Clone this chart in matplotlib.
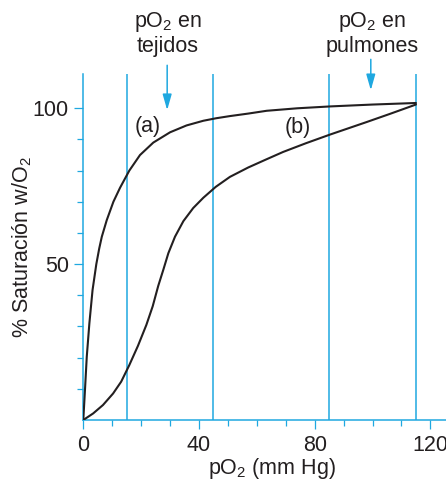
import matplotlib
matplotlib.use("Agg")
import matplotlib.pyplot as plt
from matplotlib.ticker import MultipleLocator, FixedLocator

plt.rcParams['font.family'] = ['Liberation Sans', 'DejaVu Sans']
plt.rcParams['mathtext.fontset'] = 'custom'
plt.rcParams['mathtext.rm'] = 'Liberation Sans'
plt.rcParams['mathtext.it'] = 'Liberation Sans:italic'
plt.rcParams['mathtext.default'] = 'regular'

# ---- data ----
curve_a_x = [0, 0.6, 1.2, 2.1, 3.2, 4.5, 5.5, 6.4, 8.1, 10.4, 12.7, 15.9, 19.6, 24.2,
             30.0, 35.7, 41.5, 45.9, 50.7, 57.0, 63.4, 74.0, 85.4, 100.0, 115.0]
curve_a_y = [0, 10.0, 20.3, 31.0, 41.7, 50.0, 55.0, 58.8, 64.1, 70.0, 74.5, 80.0, 85.0, 89.0,
             92.3, 94.5, 96.0, 96.8, 97.5, 98.3, 99.2, 100.0, 100.6, 101.2, 101.7]

curve_b_x = [0, 3.4, 6.8, 10.3, 13.1, 15.9, 18.9, 21.8, 24.0, 25.9, 27.7, 29.4, 31.7, 34.6,
             38.0, 41.5, 45.8, 50.7, 57.0, 63.0, 69.1, 77.0, 85.4, 98.0, 106.0, 115.0]
curve_b_y = [0, 2.1, 4.8, 8.5, 12.3, 17.6, 23.8, 30.5, 36.5, 43.0, 48.3, 53.5, 58.8, 63.8,
             68.0, 71.3, 74.8, 78.0, 81.0, 83.5, 86.0, 88.8, 91.6, 95.6, 98.2, 101.2]

vlines_x = [15, 45, 85, 115]
arrow_x = [29, 99.4]
arrow_top = [113.8, 115.7]
arrow_tip = [99.4, 105.8]
arrow_text_x = [29.3, 99.7]
arrow_text = [["pO$_2$ en", "tejidos"], ["pO$_2$ en", "pulmones"]]
curve_labels = ["(a)", "(b)"]
curve_label_x = [22.4, 74.2]
curve_label_y = [92.5, 92.2]

x_major = [0, 40, 80, 120]
y_major = [50, 100]
y_minor = [10, 20, 30, 40, 60, 70, 80, 90]
xlabel = "pO$_2$ (mm Hg)"
ylabel = "% Saturación w/O$_2$"

CYAN = "#1fa8e0"
INK = "#231f20"
FS = 15.5

fig = plt.figure(figsize=(4.46, 4.83), dpi=100)
ax = fig.add_axes([83.3/446, 1-420/483, (446-83.3)/446, (420-74)/483])
ax.set_xlim(0, 125.4)
ax.set_ylim(0, 111)

for s in ['top', 'right']:
    ax.spines[s].set_visible(False)
for s in ['left', 'bottom']:
    ax.spines[s].set_color(CYAN)
    ax.spines[s].set_linewidth(1.1)

for xv in vlines_x:
    ax.axvline(xv, color=CYAN, lw=1.1, zorder=1)

ax.plot(curve_a_x, curve_a_y, color=INK, lw=1.5, zorder=3,
        solid_joinstyle='round', solid_capstyle='round')
ax.plot(curve_b_x, curve_b_y, color=INK, lw=1.5, zorder=3,
        solid_joinstyle='round', solid_capstyle='round')

ax.xaxis.set_major_locator(FixedLocator(x_major))
ax.xaxis.set_minor_locator(MultipleLocator(10))
ax.yaxis.set_major_locator(FixedLocator(y_major))
ax.yaxis.set_minor_locator(FixedLocator(y_minor))
ax.tick_params(which='major', length=6.5, width=0.9, color=CYAN, labelsize=FS,
               labelcolor=INK, pad=4)
ax.tick_params(which='minor', length=4.3, width=0.9, color=CYAN)

ax.set_xlabel(xlabel, fontsize=FS, color=INK)
ax.set_ylabel(ylabel, fontsize=FS, color=INK)
ax.xaxis.set_label_coords(0.52, -0.104)
ax.yaxis.set_label_coords(-0.135, 0.5)

for xa, yt, yb in zip(arrow_x, arrow_top, arrow_tip):
    ax.annotate("", xy=(xa, yb), xytext=(xa, yt), annotation_clip=False,
                arrowprops=dict(arrowstyle='-|>,head_length=0.95,head_width=0.27',
                                color=CYAN, lw=1.1, shrinkA=0, shrinkB=0,
                                mutation_scale=10))

for xt, lines in zip(arrow_text_x, arrow_text):
    ax.text(xt, 126.2, lines[0], ha='center', va='baseline', fontsize=FS,
            color=INK, clip_on=False)
    ax.text(xt, 118.0, lines[1], ha='center', va='baseline', fontsize=FS,
            color=INK, clip_on=False)

for lab, lx, ly in zip(curve_labels, curve_label_x, curve_label_y):
    ax.text(lx, ly, lab, ha='center', va='baseline', fontsize=FS, color=INK)

fig.savefig("out.png", dpi=100)
